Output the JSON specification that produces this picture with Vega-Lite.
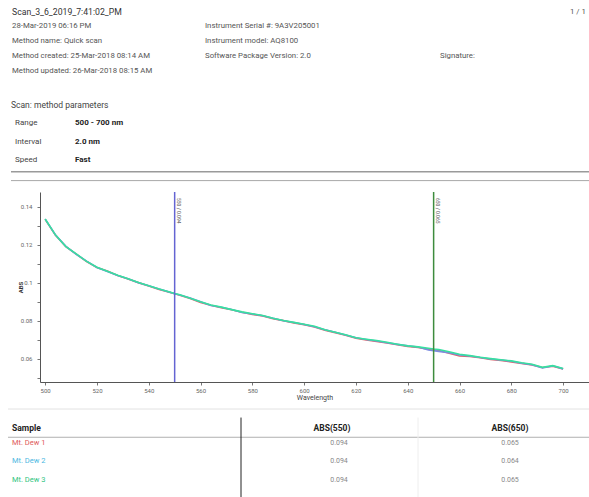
{
  "$schema": "https://vega.github.io/schema/vega-lite/v6.json",
  "width": 589,
  "height": 497,
  "autosize": {"type": "none"},
  "padding": 0,
  "background": "#ffffff",
  "config": {"view": {"stroke": null}, "font": "Roboto", "text": {"font": "Roboto"}},
  "datasets": {
    "spectra": [
      {"w": 500, "d1": 0.1333, "d2": 0.1334, "d3": 0.1335},
      {"w": 504, "d1": 0.1249, "d2": 0.1251, "d3": 0.1250},
      {"w": 508, "d1": 0.1189, "d2": 0.1191, "d3": 0.1190},
      {"w": 512, "d1": 0.1150, "d2": 0.1149, "d3": 0.1151},
      {"w": 516, "d1": 0.1111, "d2": 0.1113, "d3": 0.1112},
      {"w": 520, "d1": 0.1079, "d2": 0.1080, "d3": 0.1081},
      {"w": 524, "d1": 0.1061, "d2": 0.1059, "d3": 0.1060},
      {"w": 528, "d1": 0.1037, "d2": 0.1038, "d3": 0.1039},
      {"w": 532, "d1": 0.1019, "d2": 0.1021, "d3": 0.1020},
      {"w": 536, "d1": 0.1000, "d2": 0.0999, "d3": 0.1001},
      {"w": 540, "d1": 0.0982, "d2": 0.0984, "d3": 0.0983},
      {"w": 544, "d1": 0.0964, "d2": 0.0966, "d3": 0.0967},
      {"w": 548, "d1": 0.0949, "d2": 0.0950, "d3": 0.0951},
      {"w": 550, "d1": 0.0942, "d2": 0.0942, "d3": 0.0943},
      {"w": 552, "d1": 0.0934, "d2": 0.0935, "d3": 0.0936},
      {"w": 556, "d1": 0.0917, "d2": 0.0919, "d3": 0.0918},
      {"w": 560, "d1": 0.0896, "d2": 0.0899, "d3": 0.0899},
      {"w": 564, "d1": 0.0881, "d2": 0.0880, "d3": 0.0882},
      {"w": 568, "d1": 0.0868, "d2": 0.0870, "d3": 0.0871},
      {"w": 572, "d1": 0.0857, "d2": 0.0859, "d3": 0.0858},
      {"w": 576, "d1": 0.0844, "d2": 0.0843, "d3": 0.0846},
      {"w": 580, "d1": 0.0833, "d2": 0.0835, "d3": 0.0836},
      {"w": 584, "d1": 0.0825, "d2": 0.0826, "d3": 0.0827},
      {"w": 588, "d1": 0.0810, "d2": 0.0812, "d3": 0.0813},
      {"w": 592, "d1": 0.0800, "d2": 0.0799, "d3": 0.0801},
      {"w": 596, "d1": 0.0788, "d2": 0.0790, "d3": 0.0791},
      {"w": 600, "d1": 0.0779, "d2": 0.0780, "d3": 0.0781},
      {"w": 604, "d1": 0.0767, "d2": 0.0768, "d3": 0.0770},
      {"w": 608, "d1": 0.0750, "d2": 0.0752, "d3": 0.0752},
      {"w": 612, "d1": 0.0737, "d2": 0.0739, "d3": 0.0739},
      {"w": 616, "d1": 0.0723, "d2": 0.0724, "d3": 0.0726},
      {"w": 620, "d1": 0.0708, "d2": 0.0710, "d3": 0.0710},
      {"w": 624, "d1": 0.0698, "d2": 0.0701, "d3": 0.0702},
      {"w": 628, "d1": 0.0690, "d2": 0.0693, "d3": 0.0695},
      {"w": 632, "d1": 0.0682, "d2": 0.0684, "d3": 0.0686},
      {"w": 636, "d1": 0.0673, "d2": 0.0675, "d3": 0.0676},
      {"w": 640, "d1": 0.0664, "d2": 0.0667, "d3": 0.0667},
      {"w": 644, "d1": 0.0659, "d2": 0.0661, "d3": 0.0662},
      {"w": 648, "d1": 0.0650, "d2": 0.0645, "d3": 0.0655},
      {"w": 650, "d1": 0.0648, "d2": 0.0642, "d3": 0.0651},
      {"w": 652, "d1": 0.0643, "d2": 0.0638, "d3": 0.0648},
      {"w": 656, "d1": 0.0628, "d2": 0.0631, "d3": 0.0636},
      {"w": 660, "d1": 0.0614, "d2": 0.0619, "d3": 0.0623},
      {"w": 664, "d1": 0.0612, "d2": 0.0614, "d3": 0.0616},
      {"w": 668, "d1": 0.0605, "d2": 0.0606, "d3": 0.0607},
      {"w": 672, "d1": 0.0596, "d2": 0.0598, "d3": 0.0600},
      {"w": 676, "d1": 0.0591, "d2": 0.0593, "d3": 0.0594},
      {"w": 680, "d1": 0.0583, "d2": 0.0586, "d3": 0.0588},
      {"w": 684, "d1": 0.0575, "d2": 0.0576, "d3": 0.0578},
      {"w": 688, "d1": 0.0567, "d2": 0.0568, "d3": 0.0570},
      {"w": 692, "d1": 0.0553, "d2": 0.0551, "d3": 0.0554},
      {"w": 696, "d1": 0.0560, "d2": 0.0562, "d3": 0.0563},
      {"w": 700, "d1": 0.0545, "d2": 0.0546, "d3": 0.0548}
    ],
    "markers": [
      {"w": 550, "label": "550 / 0.094", "m": "m550"},
      {"w": 650, "label": "650 / 0.065", "m": "m650"}
    ],
    "header": [
      {"t": "Scan_3_6_2019_7:41:02_PM", "r": 0, "c": 1},
      {"t": "1 / 1", "r": 0, "c": 4},
      {"t": "28-Mar-2019 06:16 PM", "r": 1, "c": 1},
      {"t": "Instrument Serial #: 9A3V205001", "r": 1, "c": 2},
      {"t": "Method name: Quick scan", "r": 2, "c": 1},
      {"t": "Instrument model: AQ8100", "r": 2, "c": 2},
      {"t": "Method created: 25-Mar-2018 08:14 AM", "r": 3, "c": 1},
      {"t": "Software Package Version: 2.0", "r": 3, "c": 2},
      {"t": "Signature:", "r": 3, "c": 3},
      {"t": "Method updated: 26-Mar-2018 08:15 AM", "r": 4, "c": 1}
    ],
    "params": [
      {"k": "Range", "v": "500 - 700 nm", "r": 1},
      {"k": "Interval", "v": "2.0 nm", "r": 2},
      {"k": "Speed", "v": "Fast", "r": 3}
    ],
    "results": [
      {"s": "Mt. Dew 1", "a550": 0.094, "a650": 0.065, "r": 1},
      {"s": "Mt. Dew 2", "a550": 0.094, "a650": 0.064, "r": 2},
      {"s": "Mt. Dew 3", "a550": 0.094, "a650": 0.065, "r": 3}
    ]
  },
  "layer": [
    {
      "layer": [
        {
          "data": {"name": "spectra"},
          "transform": [{"fold": ["d1", "d2", "d3"], "as": ["series", "abs"]}],
          "mark": {"type": "line", "strokeWidth": 1.6},
          "encoding": {
            "x": {
              "field": "w", "type": "quantitative",
              "scale": {"domain": [498, 710], "range": [40, 589], "nice": false, "zero": false},
              "axis": {
                "values": [500, 510, 520, 530, 540, 550, 560, 570, 580, 590, 600, 610, 620, 630, 640, 650, 660, 670, 680, 690, 700],
                "labelExpr": "datum.value % 20 === 0 ? datum.label : ''",
                "format": "d", "offset": -115, "grid": false,
                "domainColor": "#555555", "domainWidth": 1,
                "tickColor": "#777777", "tickSize": 3,
                "labelFontSize": 6, "labelColor": "#666666", "labelPadding": 2,
                "labelOverlap": false, "labelFlush": false,
                "title": "Wavelength", "titleFontSize": 7, "titleFontWeight": "normal",
                "titleColor": "#444444", "titlePadding": 0
              }
            },
            "y": {
              "field": "abs", "type": "quantitative",
              "scale": {"domain": [0.0477, 0.1477], "range": [382, 192], "nice": false, "zero": false},
              "axis": {
                "values": [0.05, 0.06, 0.07, 0.08, 0.09, 0.1, 0.11, 0.12, 0.13, 0.14],
                "format": ".2~f",
                "labelExpr": "indexof(['0.06','0.08','0.1','0.12','0.14'], datum.label) >= 0 ? datum.label : ''",
                "offset": -40, "grid": false,
                "domainColor": "#555555", "domainWidth": 1,
                "tickColor": "#777777", "tickSize": 3,
                "labelFontSize": 6, "labelColor": "#666666", "labelPadding": 5,
                "labelOverlap": false, "labelFlush": false,
                "title": "ABS", "titleFontSize": 6, "titleFontWeight": "bold",
                "titleColor": "#333333", "titlePadding": -3
              }
            },
            "color": {
              "field": "series", "type": "nominal",
              "scale": {"domain": ["d1", "d2", "d3"], "range": ["#e06666", "#7b8be0", "#38e0a0"]},
              "legend": null
            }
          }
        },
        {
          "data": {"name": "markers"},
          "mark": {"type": "rule", "strokeWidth": 1.5},
          "encoding": {
            "x": {"field": "w", "type": "quantitative"},
            "y": {"datum": 0.0477},
            "y2": {"datum": 0.1477},
            "stroke": {
              "field": "m", "type": "nominal",
              "scale": {"domain": ["m550", "m650"], "range": ["#6464d2", "#3d8c3d"]},
              "legend": null
            }
          }
        },
        {
          "data": {"name": "markers"},
          "mark": {"type": "text", "angle": 90, "align": "left", "baseline": "bottom", "dx": 6, "dy": -1, "fontSize": 5, "color": "#555555"},
          "encoding": {
            "x": {"field": "w", "type": "quantitative"},
            "y": {"datum": 0.1477},
            "text": {"field": "label"}
          }
        }
      ]
    },
    {
      "data": {"name": "header"},
      "layer": [
        {
          "transform": [{"filter": "datum.r == 0 && datum.c == 1"}],
          "mark": {"type": "text", "align": "left", "baseline": "middle", "fontSize": 8.7, "color": "#333333"},
          "encoding": {
            "x": {"field": "c", "type": "quantitative", "scale": {"domain": [1, 2, 3, 4], "range": [12, 205, 440, 570], "nice": false, "zero": false}, "axis": null},
            "y": {"field": "r", "type": "quantitative", "scale": {"domain": [0, 4], "range": [11.7, 70.7], "nice": false, "zero": false}, "axis": null},
            "text": {"field": "t"}
          }
        },
        {
          "transform": [{"filter": "!(datum.r == 0 && datum.c == 1)"}],
          "mark": {"type": "text", "align": "left", "baseline": "middle", "fontSize": 7.8, "color": "#555555"},
          "encoding": {
            "x": {"field": "c", "type": "quantitative", "scale": {"domain": [1, 2, 3, 4], "range": [12, 205, 440, 570], "nice": false, "zero": false}, "axis": null},
            "y": {"field": "r", "type": "quantitative", "scale": {"domain": [0, 4], "range": [11.7, 70.7], "nice": false, "zero": false}, "axis": null},
            "text": {"field": "t"}
          }
        }
      ]
    },
    {
      "layer": [
        {
          "data": {"values": [{"t": "Scan: method parameters"}]},
          "mark": {"type": "text", "align": "left", "baseline": "middle", "fontSize": 8.5, "color": "#444444"},
          "encoding": {
            "x": {"datum": 0, "type": "quantitative", "scale": {"domain": [0, 1, 2, 3], "range": [11, 15, 75, 589], "nice": false, "zero": false}, "axis": null},
            "y": {"datum": 0, "type": "quantitative", "scale": {"domain": [0, 3], "range": [105, 160], "nice": false, "zero": false}, "axis": null},
            "text": {"field": "t"}
          }
        },
        {
          "data": {"name": "params"},
          "mark": {"type": "text", "align": "left", "baseline": "middle", "fontSize": 8, "color": "#444444"},
          "encoding": {
            "x": {"datum": 1, "type": "quantitative", "scale": {"domain": [0, 1, 2, 3], "range": [11, 15, 75, 589], "nice": false, "zero": false}, "axis": null},
            "y": {"field": "r", "type": "quantitative", "scale": {"domain": [0, 3], "range": [105, 160], "nice": false, "zero": false}, "axis": null},
            "text": {"field": "k"}
          }
        },
        {
          "data": {"name": "params"},
          "mark": {"type": "text", "align": "left", "baseline": "middle", "fontSize": 8, "fontWeight": "bold", "color": "#222222"},
          "encoding": {
            "x": {"datum": 2, "type": "quantitative", "scale": {"domain": [0, 1, 2, 3], "range": [11, 15, 75, 589], "nice": false, "zero": false}, "axis": null},
            "y": {"field": "r", "type": "quantitative", "scale": {"domain": [0, 3], "range": [105, 160], "nice": false, "zero": false}, "axis": null},
            "text": {"field": "v"}
          }
        },
        {
          "data": {"values": [{}]},
          "mark": {"type": "rule", "strokeWidth": 1.6, "color": "#9a9a9a"},
          "encoding": {
            "x": {"datum": 0, "type": "quantitative", "scale": {"domain": [0, 1, 2, 3], "range": [11, 15, 75, 589], "nice": false, "zero": false}, "axis": null},
            "x2": {"datum": 3},
            "y": {"datum": 3.638, "type": "quantitative", "scale": {"domain": [0, 3], "range": [105, 160], "nice": false, "zero": false}, "axis": null}
          }
        },
        {
          "data": {"values": [{}]},
          "mark": {"type": "rule", "strokeWidth": 1, "color": "#a8a8a8"},
          "encoding": {
            "x": {"datum": 0, "type": "quantitative", "scale": {"domain": [0, 1, 2, 3], "range": [11, 15, 75, 589], "nice": false, "zero": false}, "axis": null},
            "x2": {"datum": 3},
            "y": {"datum": 4.124, "type": "quantitative", "scale": {"domain": [0, 3], "range": [105, 160], "nice": false, "zero": false}, "axis": null}
          }
        }
      ]
    },
    {
      "layer": [
        {
          "data": {"values": [{}]},
          "mark": {"type": "rule", "strokeWidth": 1, "color": "#e2e2e2"},
          "encoding": {
            "x": {"datum": 0, "type": "quantitative", "scale": {"domain": [0, 1, 2, 3, 4, 5, 6], "range": [8, 12, 241, 336, 418, 510, 589], "nice": false, "zero": false}, "axis": null},
            "x2": {"datum": 6},
            "y": {"datum": -1, "type": "quantitative", "scale": {"domain": [-1, 0, 1, 3, 4], "range": [409, 428, 442.7, 480, 497], "nice": false, "zero": false}, "axis": null}
          }
        },
        {
          "data": {"values": [{}]},
          "mark": {"type": "rule", "strokeWidth": 1, "color": "#b0b0b0"},
          "encoding": {
            "x": {"datum": 0, "type": "quantitative", "scale": {"domain": [0, 1, 2, 3, 4, 5, 6], "range": [8, 12, 241, 336, 418, 510, 589], "nice": false, "zero": false}, "axis": null},
            "x2": {"datum": 6},
            "y": {"datum": 0.63, "type": "quantitative", "scale": {"domain": [-1, 0, 1, 3, 4], "range": [409, 428, 442.7, 480, 497], "nice": false, "zero": false}, "axis": null}
          }
        },
        {
          "data": {"values": [{}]},
          "mark": {"type": "rule", "strokeWidth": 1, "color": "#222222"},
          "encoding": {
            "x": {"datum": 2, "type": "quantitative", "scale": {"domain": [0, 1, 2, 3, 4, 5, 6], "range": [8, 12, 241, 336, 418, 510, 589], "nice": false, "zero": false}, "axis": null},
            "y": {"datum": -0.55, "type": "quantitative", "scale": {"domain": [-1, 0, 1, 3, 4], "range": [409, 428, 442.7, 480, 497], "nice": false, "zero": false}, "axis": null},
            "y2": {"datum": 4}
          }
        },
        {
          "data": {"values": [{}]},
          "mark": {"type": "rule", "strokeWidth": 1, "color": "#eeeeee"},
          "encoding": {
            "x": {"datum": 4, "type": "quantitative", "scale": {"domain": [0, 1, 2, 3, 4, 5, 6], "range": [8, 12, 241, 336, 418, 510, 589], "nice": false, "zero": false}, "axis": null},
            "y": {"datum": -0.55, "type": "quantitative", "scale": {"domain": [-1, 0, 1, 3, 4], "range": [409, 428, 442.7, 480, 497], "nice": false, "zero": false}, "axis": null},
            "y2": {"datum": 4}
          }
        },
        {
          "data": {"values": [{"t": "Sample"}]},
          "mark": {"type": "text", "align": "left", "baseline": "middle", "fontSize": 8.5, "fontWeight": "bold", "color": "#222222"},
          "encoding": {
            "x": {"datum": 1, "type": "quantitative", "scale": {"domain": [0, 1, 2, 3, 4, 5, 6], "range": [8, 12, 241, 336, 418, 510, 589], "nice": false, "zero": false}, "axis": null},
            "y": {"datum": 0, "type": "quantitative", "scale": {"domain": [-1, 0, 1, 3, 4], "range": [409, 428, 442.7, 480, 497], "nice": false, "zero": false}, "axis": null},
            "text": {"field": "t"}
          }
        },
        {
          "data": {"values": [{"t": "ABS(550)"}]},
          "mark": {"type": "text", "align": "center", "baseline": "middle", "fontSize": 8.5, "fontWeight": "bold", "color": "#222222", "dx": -4},
          "encoding": {
            "x": {"datum": 3, "type": "quantitative", "scale": {"domain": [0, 1, 2, 3, 4, 5, 6], "range": [8, 12, 241, 336, 418, 510, 589], "nice": false, "zero": false}, "axis": null},
            "y": {"datum": 0, "type": "quantitative", "scale": {"domain": [-1, 0, 1, 3, 4], "range": [409, 428, 442.7, 480, 497], "nice": false, "zero": false}, "axis": null},
            "text": {"field": "t"}
          }
        },
        {
          "data": {"values": [{"t": "ABS(650)"}]},
          "mark": {"type": "text", "align": "center", "baseline": "middle", "fontSize": 8.5, "fontWeight": "bold", "color": "#222222"},
          "encoding": {
            "x": {"datum": 5, "type": "quantitative", "scale": {"domain": [0, 1, 2, 3, 4, 5, 6], "range": [8, 12, 241, 336, 418, 510, 589], "nice": false, "zero": false}, "axis": null},
            "y": {"datum": 0, "type": "quantitative", "scale": {"domain": [-1, 0, 1, 3, 4], "range": [409, 428, 442.7, 480, 497], "nice": false, "zero": false}, "axis": null},
            "text": {"field": "t"}
          }
        },
        {
          "data": {"name": "results"},
          "mark": {"type": "text", "align": "left", "baseline": "middle", "fontSize": 7.5},
          "encoding": {
            "x": {"datum": 1, "type": "quantitative", "scale": {"domain": [0, 1, 2, 3, 4, 5, 6], "range": [8, 12, 241, 336, 418, 510, 589], "nice": false, "zero": false}, "axis": null},
            "y": {"field": "r", "type": "quantitative", "scale": {"domain": [-1, 0, 1, 3, 4], "range": [409, 428, 442.7, 480, 497], "nice": false, "zero": false}, "axis": null},
            "text": {"field": "s"},
            "color": {"field": "s", "type": "nominal", "scale": {"domain": ["Mt. Dew 1", "Mt. Dew 2", "Mt. Dew 3"], "range": ["#e05a5a", "#4cb8e2", "#2ec480"]}, "legend": null}
          }
        },
        {
          "data": {"name": "results"},
          "mark": {"type": "text", "align": "center", "baseline": "middle", "fontSize": 7, "color": "#888888", "dx": 3},
          "encoding": {
            "x": {"datum": 3, "type": "quantitative", "scale": {"domain": [0, 1, 2, 3, 4, 5, 6], "range": [8, 12, 241, 336, 418, 510, 589], "nice": false, "zero": false}, "axis": null},
            "y": {"field": "r", "type": "quantitative", "scale": {"domain": [-1, 0, 1, 3, 4], "range": [409, 428, 442.7, 480, 497], "nice": false, "zero": false}, "axis": null},
            "text": {"field": "a550", "format": ".3f"}
          }
        },
        {
          "data": {"name": "results"},
          "mark": {"type": "text", "align": "center", "baseline": "middle", "fontSize": 7, "color": "#888888"},
          "encoding": {
            "x": {"datum": 5, "type": "quantitative", "scale": {"domain": [0, 1, 2, 3, 4, 5, 6], "range": [8, 12, 241, 336, 418, 510, 589], "nice": false, "zero": false}, "axis": null},
            "y": {"field": "r", "type": "quantitative", "scale": {"domain": [-1, 0, 1, 3, 4], "range": [409, 428, 442.7, 480, 497], "nice": false, "zero": false}, "axis": null},
            "text": {"field": "a650", "format": ".3f"}
          }
        }
      ]
    }
  ],
  "resolve": {"scale": {"x": "independent", "y": "independent", "color": "independent"}}
}
